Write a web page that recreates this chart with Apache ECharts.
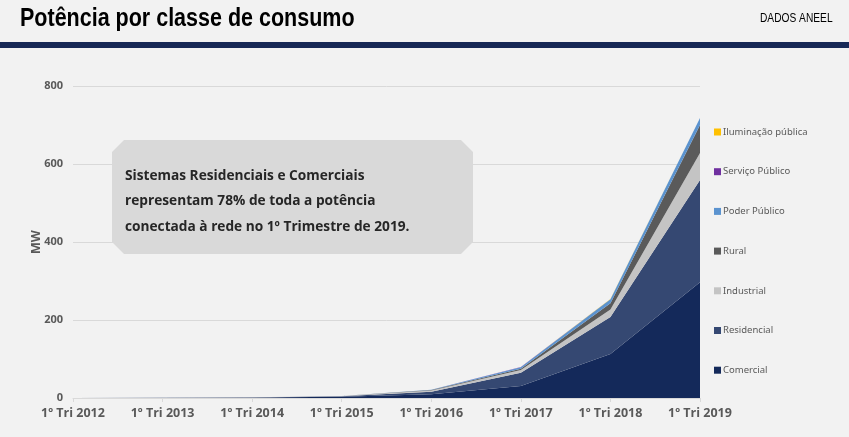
<!DOCTYPE html>
<html>
<head>
<meta charset="utf-8">
<script src="https://cdn.jsdelivr.net/npm/echarts@6/dist/echarts.min.js"></script>
<style>
  html, body { margin: 0; padding: 0; background: #f2f2f2; }
  #chart { width: 849px; height: 437px; }
</style>
</head>
<body>
<div id="chart"></div>
<script>
const categories = ['1º Tri 2012','1º Tri 2013','1º Tri 2014','1º Tri 2015','1º Tri 2016','1º Tri 2017','1º Tri 2018','1º Tri 2019'];
const comercial   = [0, 0.3, 1.0, 3.0, 9.5, 31, 113, 297];
const residencial = [0, 0.2, 0.6, 1.5, 6.5, 34, 95, 262];
const industrial  = [0, 0.05, 0.2, 0.5, 3.0, 7, 19, 69];
const rural       = [0, 0.02, 0.1, 0.2, 1.5, 3, 16, 72];
const poderPublico = [0, 0.02, 0.1, 0.2, 0.5, 4, 10, 18];
const servicoPublico = [0, 0, 0, 0.02, 0.05, 0.2, 0.5, 1];
const iluminacaoPublica = [0, 0, 0, 0.01, 0.02, 0.1, 0.3, 0.5];
const yTicks = [0, 200, 400, 600, 800];

const seriesDefs = [
  { name: 'Comercial', data: comercial, color: '#14295a' },
  { name: 'Residencial', data: residencial, color: '#354872' },
  { name: 'Industrial', data: industrial, color: '#c4c4c4' },
  { name: 'Rural', data: rural, color: '#5a5a5a' },
  { name: 'Poder Público', data: poderPublico, color: '#5b93cf' },
  { name: 'Serviço Público', data: servicoPublico, color: '#7030a0' },
  { name: 'Iluminação pública', data: iluminacaoPublica, color: '#ffc000' }
];
const legendOrder = ['Iluminação pública','Serviço Público','Poder Público','Rural','Industrial','Residencial','Comercial'];

const chart = echarts.init(document.getElementById('chart'), null, { renderer: 'canvas' });

const bx0 = 112, bx1 = 473, by0 = 140, by1 = 254, c = 12;

chart.setOption({
  backgroundColor: '#f2f2f2',
  animation: false,
  graphic: [
    { type: 'rect', shape: { x: 0, y: 42, width: 849, height: 6 }, style: { fill: '#172856' }, silent: true },
    { type: 'text', x: 20, y: 7, scaleX: 0.86,
      style: { text: 'Potência por classe de consumo', font: 'bold 25px "Liberation Sans", Arial, sans-serif', fill: '#000' } },
    { type: 'text', x: 760, y: 13, scaleX: 0.85,
      style: { text: 'DADOS ANEEL', font: '12px "Liberation Sans", Arial, sans-serif', fill: '#000' } },
    { type: 'polygon', z: 100,
      shape: { points: [[bx0 + c, by0], [bx1 - c, by0], [bx1, by0 + c], [bx1, by1 - c], [bx1 - c, by1], [bx0 + c, by1], [bx0, by1 - c], [bx0, by0 + c]] },
      style: { fill: '#d9d9d9' }, silent: true },
    { type: 'text', z: 101, left: 125, top: 163,
      style: {
        text: 'Sistemas Residenciais e Comerciais\nrepresentam 78% de toda a potência\nconectada à rede no 1º Trimestre de 2019.',
        font: 'bold 13.7px "Open Sans", sans-serif', fill: '#262626', lineHeight: 25.5
      } }
  ],
  legend: {
    orient: 'vertical',
    left: 709, top: 121,
    data: legendOrder,
    itemWidth: 7, itemHeight: 7,
    itemGap: 27.7,
    icon: 'rect',
    textStyle: { fontFamily: '"Noto Sans", sans-serif', fontSize: 9.5, color: '#595959', lineHeight: 12, padding: [0, 0, 0, -3] }
  },
  grid: { left: 73, right: 149, top: 86, bottom: 39, containLabel: false },
  xAxis: {
    type: 'category',
    boundaryGap: false,
    data: categories,
    axisLine: { lineStyle: { color: '#d9d9d9' } },
    axisTick: { show: true, length: 4, lineStyle: { color: '#d9d9d9' } },
    axisLabel: { color: '#595959', fontWeight: 'bold', fontSize: 12.5, fontFamily: '"Open Sans", sans-serif', margin: 9 }
  },
  yAxis: {
    type: 'value',
    min: 0, max: 800, interval: 200,
    name: 'MW',
    nameLocation: 'middle',
    nameGap: 30,
    nameMoveOverlap: false,
    nameTextStyle: { color: '#595959', fontWeight: 'bold', fontSize: 12.5, fontFamily: '"Open Sans", sans-serif' },
    axisLine: { show: false },
    axisTick: { show: false },
    splitLine: { lineStyle: { color: '#d9d9d9' } },
    axisLabel: { color: '#595959', fontSize: 11, fontWeight: 'bold', fontFamily: '"Open Sans", sans-serif', margin: 10,
      formatter: v => yTicks.includes(v) ? String(v) : '' }
  },
  series: seriesDefs.map(s => ({
    name: s.name,
    type: 'line',
    stack: 'total',
    data: s.data,
    showSymbol: false,
    symbol: 'none',
    lineStyle: { width: 0 },
    itemStyle: { color: s.color },
    areaStyle: { color: s.color, opacity: 1 }
  }))
});
</script>
</body>
</html>
